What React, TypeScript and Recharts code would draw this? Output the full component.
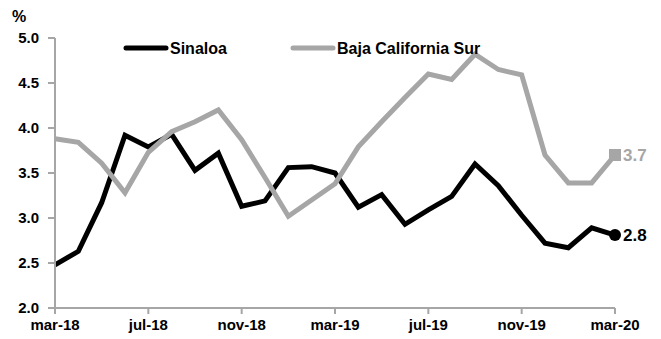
import { LineChart, Line, XAxis, YAxis } from "recharts";

const months = [
  "mar-18", "abr-18", "may-18", "jun-18", "jul-18", "ago-18", "sep-18", "oct-18", "nov-18", "dic-18",
  "ene-19", "feb-19", "mar-19", "abr-19", "may-19", "jun-19", "jul-19", "ago-19", "sep-19", "oct-19",
  "nov-19", "dic-19", "ene-20", "feb-20", "mar-20",
];
const sinaloa = [
  2.48, 2.63, 3.17, 3.92, 3.79, 3.93, 3.53, 3.72, 3.13, 3.19,
  3.56, 3.57, 3.5, 3.12, 3.26, 2.93, 3.09, 3.24, 3.6, 3.36,
  3.03, 2.72, 2.67, 2.89, 2.81,
];
const bajaCaliforniaSur = [
  3.88, 3.84, 3.61, 3.28, 3.73, 3.96, 4.07, 4.2, 3.87, 3.45,
  3.02, 3.2, 3.38, 3.79, 4.07, 4.34, 4.6, 4.54, 4.82, 4.65,
  4.59, 3.7, 3.39, 3.39, 3.7,
];
const yTicks = [2, 2.5, 3, 3.5, 4, 4.5, 5];

const data = months.map((m, i) => ({ m, sin: sinaloa[i], bcs: bajaCaliforniaSur[i] }));

const font = "'Liberation Sans Narrow', 'Arial Narrow', 'Liberation Sans', sans-serif";
const axisGray = "#a6a6a6";
const seriesGray = "#a6a6a6";
const last = data.length - 1;

const SinDot = (p: any) => {
  if (p.index !== last) return <g key={p.index} />;
  return (
    <g key={p.index}>
      <circle cx={p.cx} cy={p.cy} r={6} fill="#000" />
      <text x={p.cx + 8} y={p.cy + 6} fontSize={17} fontWeight="bold" fontFamily={font} fill="#000">
        {p.value.toFixed(1)}
      </text>
    </g>
  );
};

const BcsDot = (p: any) => {
  if (p.index !== last) return <g key={p.index} />;
  return (
    <g key={p.index}>
      <rect x={p.cx - 6} y={p.cy - 6} width={12} height={12} fill={seriesGray} />
      <text x={p.cx + 8} y={p.cy + 6} fontSize={17} fontWeight="bold" fontFamily={font} fill={seriesGray}>
        {p.value.toFixed(1)}
      </text>
    </g>
  );
};

export default function App() {
  return (
    <div style={{ position: "absolute", left: 0, top: 0, width: 661, height: 339, background: "#fff" }}>
      <div style={{ position: "absolute", left: 12, top: 8, fontSize: 16, fontFamily: font, fontWeight: "bold" }}>%</div>
      <svg width={661} height={60} style={{ position: "absolute", left: 0, top: 0, zIndex: 1, pointerEvents: "none" }}>
        <line x1={126} y1={48} x2={166} y2={48} stroke="#000" strokeWidth={5} strokeLinecap="round" />
        <text x={170} y={54} fontSize={16} fontWeight="bold" fontFamily={font} fill="#000">Sinaloa</text>
        <line x1={293} y1={48} x2={333} y2={48} stroke={seriesGray} strokeWidth={5} strokeLinecap="round" />
        <text x={337} y={54} fontSize={16} fontWeight="bold" fontFamily={font} fill="#000">Baja California Sur</text>
      </svg>
      <LineChart width={661} height={339} data={data} margin={{ top: 38, right: 46, bottom: 0, left: 0 }}>
        <XAxis
          dataKey="m"
          interval={3}
          height={31}
          stroke={axisGray}
          strokeWidth={2}
          tickSize={6}
          tickMargin={5}
          tick={{ fill: "#000", fontSize: 15, fontWeight: "bold", fontFamily: font }}
        />
        <YAxis
          domain={[2, 5]}
          ticks={yTicks}
          width={55}
          stroke={axisGray}
          strokeWidth={2}
          tickSize={7}
          tickMargin={9}
          tickFormatter={(v: number) => v.toFixed(1)}
          tick={{ fill: "#000", fontSize: 15, fontWeight: "bold", fontFamily: font }}
        />
        <Line dataKey="sin" stroke="#000" strokeWidth={5} dot={SinDot} activeDot={false} isAnimationActive={false} />
        <Line dataKey="bcs" stroke={seriesGray} strokeWidth={5} dot={BcsDot} activeDot={false} isAnimationActive={false} />
      </LineChart>
    </div>
  );
}
